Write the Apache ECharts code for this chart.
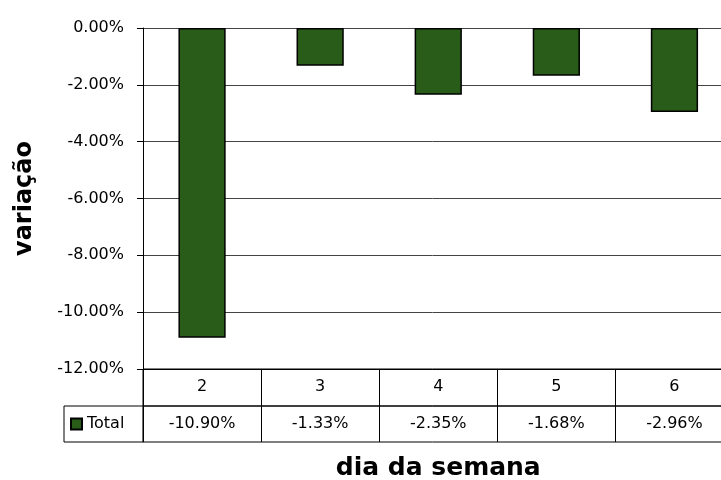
<!DOCTYPE html>
<html>
<head>
<meta charset="utf-8">
<script src="https://cdn.jsdelivr.net/npm/echarts@6/dist/echarts.min.js"></script>
<style>
  html, body { margin: 0; padding: 0; background: #fff; }
  #chart { width: 721px; height: 480px; }
</style>
</head>
<body>
<div id="chart"></div>
<script>
// Weekday categories and the variation measured for each
const days = ['2', '3', '4', '5', '6'];
const variacao = [-10.90, -1.33, -2.35, -1.68, -2.96];
const seriesName = 'Total';
const yMin = -12, yMax = 0, yStep = 2;

const FONT = 'DejaVu Sans';
const pct = v => v.toFixed(2) + '%';

const chart = echarts.init(document.getElementById('chart'), null, { renderer: 'canvas' });

// Plot area and the two data-table rows share the same horizontal extent
const plotLeft = 143, plotRight = -12.5;

const option = {
  animation: false,
  backgroundColor: '#fff',
  legend: {
    data: [seriesName],
    left: 64, top: 406,
    padding: [8, 19, 8, 6],
    borderColor: '#000', borderWidth: 1,
    itemWidth: 11, itemHeight: 11,
    icon: 'rect',
    selectedMode: false,
    textStyle: { fontFamily: FONT, fontSize: 16, lineHeight: 20, color: '#000' }
  },
  grid: [
    { left: plotLeft, right: plotRight, top: 28, bottom: 111, outerBoundsMode: 'none' },
    { left: plotLeft, right: plotRight, top: 369, height: 37, show: true, borderColor: '#000', borderWidth: 1, backgroundColor: 'transparent', outerBoundsMode: 'none' },
    { left: plotLeft, right: plotRight, top: 406, height: 36, show: true, borderColor: '#000', borderWidth: 1, backgroundColor: 'transparent', outerBoundsMode: 'none' }
  ],
  xAxis: [
    {
      gridIndex: 0, type: 'category', data: days,
      axisLine: { show: true, onZero: false, lineStyle: { color: '#000', width: 1 } },
      axisTick: { show: false }, axisLabel: { show: false }, splitLine: { show: false }
    },
    {
      // table row: weekday
      gridIndex: 1, type: 'category', data: days, position: 'top',
      axisLine: { show: false, onZero: false },
      axisTick: { show: true, inside: true, length: 37, interval: 0, lineStyle: { color: '#000' } },
      axisLabel: { inside: true, margin: 10, color: '#000', fontFamily: FONT, fontSize: 16 },
      splitLine: { show: false }
    },
    {
      // table row: values
      gridIndex: 2, type: 'category', data: variacao.map(pct), position: 'top',
      axisLine: { show: false, onZero: false },
      axisTick: { show: true, inside: true, length: 36, interval: 0, lineStyle: { color: '#000' } },
      axisLabel: { inside: true, margin: 10, color: '#000', fontFamily: FONT, fontSize: 16 },
      splitLine: { show: false }
    },
    {
      // axis title under the table
      gridIndex: 2, type: 'category', data: days, position: 'bottom',
      axisLine: { show: false, onZero: false }, axisTick: { show: false }, axisLabel: { show: false },
      splitLine: { show: false },
      name: 'dia da semana', nameLocation: 'middle', nameGap: 14,
      nameTextStyle: { fontFamily: FONT, fontWeight: 'bold', fontSize: 25, color: '#000', verticalAlign: 'top' }
    }
  ],
  yAxis: [
    {
      gridIndex: 0, type: 'value', min: yMin, max: yMax, interval: yStep,
      axisLine: { show: true, lineStyle: { color: '#000' } },
      axisTick: { show: true, length: 6, lineStyle: { color: '#000' } },
      axisLabel: { formatter: v => pct(v), margin: 19, fontFamily: FONT, fontSize: 16, color: '#000' },
      splitLine: { show: true, lineStyle: { color: '#444', width: 1 } },
      name: 'variação', nameLocation: 'middle', nameRotate: 90, nameGap: 106,
      nameTextStyle: { fontFamily: FONT, fontWeight: 'bold', fontSize: 24, color: '#000' }
    },
    { gridIndex: 1, type: 'value', min: 0, max: 1, show: false },
    { gridIndex: 2, type: 'value', min: 0, max: 1, show: false }
  ],
  series: [
    {
      name: seriesName, type: 'bar',
      xAxisIndex: 0, yAxisIndex: 0,
      data: variacao,
      barWidth: '40%',
      itemStyle: { color: '#295c18', borderColor: '#000', borderWidth: 1.5 }
    }
  ]
};

chart.setOption(option);
</script>
</body>
</html>
